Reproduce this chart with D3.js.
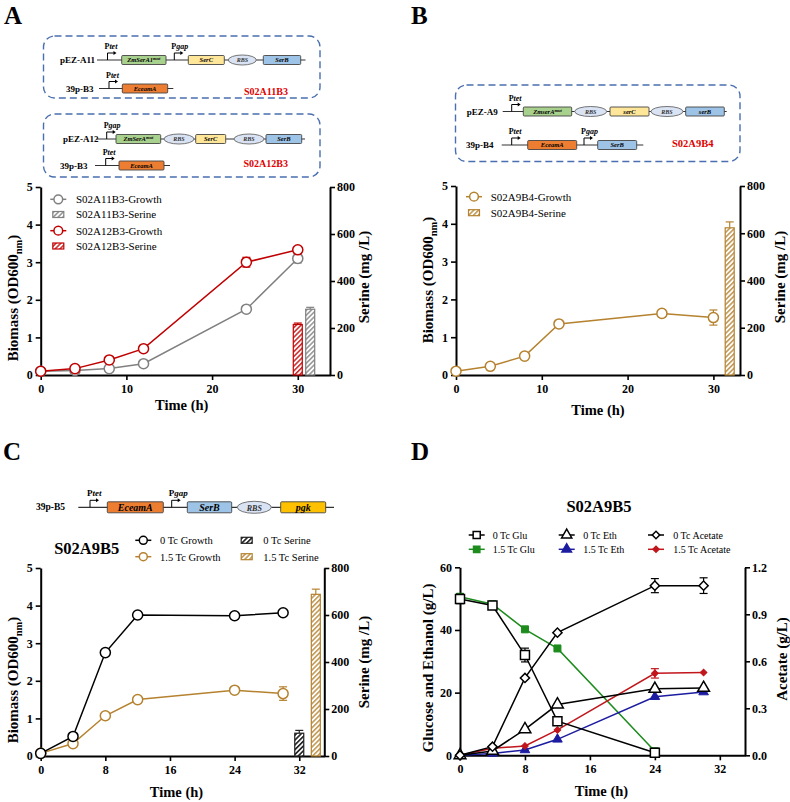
<!DOCTYPE html>
<html><head><meta charset="utf-8">
<script src="https://cdn.jsdelivr.net/npm/d3@7"></script>
<style>body{margin:0;background:#fff}svg{display:block;font-family:"Liberation Serif","Times New Roman",serif}</style>
</head><body><svg id="fig" width="790" height="802"></svg>
<script>
// ---------------- DATA ----------------
const timesA = [0, 4, 8, 12, 24, 30];
const growthA11 = [0.10, 0.12, 0.17, 0.30, 1.75, 3.10];
const growthA11Err = [0, 0, 0, 0, 0.03, 0.12];
const growthA12 = [0.10, 0.17, 0.40, 0.70, 3.00, 3.33];
const growthA12Err = [0, 0, 0, 0, 0.13, 0.03];
const serineATimes = [30, 31.45];
const serineA = [215, 280];
const serineAErr = [6, 8];

const timesB = [0, 4, 8, 12, 24, 30];
const growthB4 = [0.10, 0.23, 0.50, 1.35, 1.63, 1.52];
const growthB4Err = [0, 0, 0, 0, 0.1, 0.2];
const serineBTimes = [31.9];
const serineB = [623];
const serineBErr = [25];

const timesC = [0, 4, 8, 12, 24, 30];
const growthC0 = [0.07, 0.52, 2.75, 3.75, 3.73, 3.81];
const growthC0Err = [0, 0, 0, 0, 0.08, 0];
const growthC15 = [0.07, 0.33, 1.07, 1.50, 1.75, 1.66];
const growthC15Err = [0, 0, 0, 0, 0, 0.18];
const serineCTimes = [32, 34.05];
const serineC = [97, 688];
const serineCErr = [12, 22];

const timesDGlu = [0, 4, 8, 12, 24];
const glu0 = [49.9, 47.8, 32.0, 10.9, 0.8];
const glu0Err = [1.5, 0.8, 2.2, 0, 0];
const glu15 = [50.6, 48.2, 40.2, 34.1, 1.3];
const timesD = [0, 4, 8, 12, 24, 30];
const eth0 = [0, 1.4, 8.3, 16.2, 21.2, 21.5];
const eth15 = [0, 0.6, 1.7, 5.1, 18.7, 20.2];
const ace0 = [0, 0.055, 0.494, 0.783, 1.083, 1.083];
const ace0Err = [0, 0, 0, 0, 0.045, 0.05];
const ace15 = [0, 0.045, 0.06, 0.162, 0.523, 0.528];
const ace15Err = [0, 0, 0, 0, 0.03, 0];

const ticksX10 = [0, 10, 20, 30];
const ticksX8 = [0, 8, 16, 24, 32];
const ticksOD = [0, 1, 2, 3, 4, 5];
const ticksSer = [0, 200, 400, 600, 800];
const ticksGE = [0, 20, 40, 60];
const ticksAce = [0, 0.3, 0.6, 0.9, 1.2];

// ---------------- STYLE ----------------
const GRAY = "#808080", RED = "#c00000", BROWN = "#b5822f", BLACK = "#000",
      GREEN = "#1d8c1d", BLUE = "#1c1ca0", DRED = "#c0161c";

const svg = d3.select("#fig");
const defs = svg.append("defs");
function hatch(id, color, sw) {
  const p = defs.append("pattern").attr("id", id).attr("patternUnits", "userSpaceOnUse")
    .attr("width", 3.4).attr("height", 3.4).attr("patternTransform", "rotate(45)");
  p.append("rect").attr("width", 3.4).attr("height", 3.4).attr("fill", "#fff");
  p.append("line").attr("x1", 0.8).attr("y1", 0).attr("x2", 0.8).attr("y2", 3.4)
    .attr("stroke", color).attr("stroke-width", sw);
}
hatch("hRed", RED, 1.3); hatch("hGray", GRAY, 1.3); hatch("hBrown", BROWN, 1.3); hatch("hBlack", "#222", 1.7);

function sym(type, size) {
  return d3.symbol().type(type).size(size)();
}

// ---------------- CHART ----------------
function chart(o) {
  const g = svg.append("g");
  const x = d3.scaleLinear().domain([0, o.xMax]).range([o.x0, o.x1]);
  const yL = d3.scaleLinear().domain(o.yL).range([o.yb, o.yt]);
  const yR = d3.scaleLinear().domain(o.yR).range([o.yb, o.yt]);
  const styleAxis = sel => {
    sel.select(".domain").attr("stroke", "#000").attr("stroke-width", 2);
    sel.selectAll(".tick line").attr("stroke", "#000").attr("stroke-width", 1.6);
    sel.selectAll(".tick text").attr("font-size", 12).attr("font-weight", "bold")
      .attr("font-family", '"Liberation Serif",serif').attr("fill", "#000");
  };
  g.append("g").attr("transform", `translate(0,${o.yb})`)
    .call(d3.axisBottom(x).tickValues(o.xTicks).tickSize(5).tickSizeOuter(0).tickPadding(4))
    .call(styleAxis);
  g.append("g").attr("transform", `translate(${o.x0},0)`)
    .call(d3.axisLeft(yL).tickValues(o.yLTicks).tickSize(5).tickSizeOuter(0).tickPadding(3).tickFormat(o.yLFmt || d3.format("d")))
    .call(styleAxis);
  g.append("g").attr("transform", `translate(${o.x1},0)`)
    .call(d3.axisRight(yR).tickValues(o.yRTicks).tickSize(5).tickSizeOuter(0).tickPadding(2).tickFormat(o.yRFmt || d3.format("d")))
    .call(styleAxis);

  // bars
  (o.bars || []).forEach(b => {
    b.xs.forEach((t, i) => {
      const cx = x(t), top = yR(b.ys[i]);
      g.append("rect").attr("x", cx - 4.5).attr("y", top).attr("width", 9).attr("height", o.yb - top)
        .attr("fill", `url(#${b.pat})`).attr("stroke", b.color).attr("stroke-width", 1.2);
      if (b.err[i] > 0) {
        const ye = yR(b.ys[i] + b.err[i]);
        g.append("line").attr("x1", cx).attr("x2", cx).attr("y1", top).attr("y2", ye).attr("stroke", b.color).attr("stroke-width", 1.2);
        g.append("line").attr("x1", cx - 4).attr("x2", cx + 4).attr("y1", ye).attr("y2", ye).attr("stroke", b.color).attr("stroke-width", 1.2);
      }
    });
  });
  // series
  o.series.forEach(s => {
    const y = s.axis === "R" ? yR : yL;
    const pts = s.xs.map((t, i) => [x(t), y(s.ys[i])]);
    g.append("path").attr("d", d3.line()(pts)).attr("fill", "none").attr("stroke", s.color).attr("stroke-width", 1.5);
    if (s.err) s.xs.forEach((t, i) => {
      if (!s.err[i]) return;
      const cx = x(t), y1 = y(s.ys[i] - s.err[i]), y2 = y(s.ys[i] + s.err[i]);
      g.append("line").attr("x1", cx).attr("x2", cx).attr("y1", y1).attr("y2", y2).attr("stroke", s.color).attr("stroke-width", 1.2);
      [y1, y2].forEach(yy => g.append("line").attr("x1", cx - 4).attr("x2", cx + 4).attr("y1", yy).attr("y2", yy).attr("stroke", s.color).attr("stroke-width", 1.2));
    });
    pts.forEach(p => {
      g.append("path").attr("d", sym(s.sym, s.size)).attr("transform", `translate(${p[0]},${p[1]}) rotate(${s.rot || 0})`)
        .attr("fill", s.fill).attr("stroke", s.color).attr("stroke-width", s.sw || 1.5);
    });
  });
  // titles
  const lt = g.append("text").attr("transform", `translate(${o.ylx},${o.yly}) rotate(-90)`).attr("text-anchor", "middle")
    .attr("font-weight", "bold").attr("font-size", o.ylfs || 15);
  if (o.ylSub) {
    lt.append("tspan").text(o.ylText);
    lt.append("tspan").text("nm").attr("font-size", (o.ylfs || 15) * 0.7).attr("dy", 4);
    lt.append("tspan").text(")").attr("dy", -4);
  } else lt.text(o.ylText);
  g.append("text").attr("transform", `translate(${o.yrx},${o.yry}) rotate(-90)`).attr("text-anchor", "middle")
    .attr("font-weight", "bold").attr("font-size", o.yrfs || 15).text(o.yrText);
  g.append("text").attr("x", (o.x0 + o.x1) / 2 - o.xlOff).attr("y", o.xly).attr("text-anchor", "middle")
    .attr("font-weight", "bold").attr("font-size", 14.5).text("Time (h)");
  return g;
}

function legend(items, fs) {
  items.forEach(it => {
    const g = svg.append("g");
    if (it.kind === "bar") {
      g.append("rect").attr("x", it.mx - 5.5).attr("y", it.y - 3).attr("width", 11).attr("height", 6)
        .attr("fill", `url(#${it.pat})`).attr("stroke", it.color).attr("stroke-width", 1.2);
    } else {
      g.append("line").attr("x1", it.mx - 8).attr("x2", it.mx + 8).attr("y1", it.y).attr("y2", it.y).attr("stroke", it.color).attr("stroke-width", 1.5);
      g.append("path").attr("d", sym(it.sym, it.size)).attr("transform", `translate(${it.mx},${it.y}) rotate(${it.rot || 0})`)
        .attr("fill", it.fill).attr("stroke", it.color).attr("stroke-width", 1.5);
    }
    g.append("text").attr("x", it.tx).attr("y", it.y + 3.8).attr("font-size", fs).text(it.label);
  });
}

// ---------------- PANEL A ----------------
chart({
  x0: 40.7, x1: 330, yt: 187, yb: 375, xMax: 33.76, xTicks: ticksX10,
  yL: [0, 5], yLTicks: ticksOD, yR: [0, 800], yRTicks: ticksSer,
  ylx: 18, yly: 298, ylText: "Biomass (OD600", ylSub: true, yrx: 369, yry: 277, yrText: "Serine (mg /L)",
  xly: 410, xlOff: 3.6,
  bars: [
    { xs: [serineATimes[0]], ys: [serineA[0]], err: [serineAErr[0]], color: RED, pat: "hRed" },
    { xs: [serineATimes[1]], ys: [serineA[1]], err: [serineAErr[1]], color: GRAY, pat: "hGray" }
  ],
  series: [
    { xs: timesA, ys: growthA11, err: growthA11Err, color: GRAY, sym: d3.symbolCircle, size: 80, fill: "#fff" },
    { xs: timesA, ys: growthA12, err: growthA12Err, color: RED, sym: d3.symbolCircle, size: 80, fill: "#fff" }
  ]
});
legend([
  { label: "S02A11B3-Growth", color: GRAY, sym: d3.symbolCircle, size: 60, fill: "#fff", mx: 58.3, tx: 76, y: 199.3 },
  { label: "S02A11B3-Serine", kind: "bar", color: GRAY, pat: "hGray", mx: 58.3, tx: 76, y: 214.5 },
  { label: "S02A12B3-Growth", color: RED, sym: d3.symbolCircle, size: 60, fill: "#fff", mx: 58.3, tx: 76, y: 230.7 },
  { label: "S02A12B3-Serine", kind: "bar", color: RED, pat: "hRed", mx: 58.3, tx: 76, y: 246 }
], 11);

// ---------------- PANEL B ----------------
chart({
  x0: 456, x1: 740, yt: 186, yb: 375, xMax: 33.1, xTicks: ticksX10,
  yL: [0, 5], yLTicks: ticksOD, yR: [0, 800], yRTicks: ticksSer,
  ylx: 433, yly: 280, ylText: "Biomass (OD600", ylSub: true, yrx: 785, yry: 277, yrText: "Serine (mg /L)",
  xly: 415, xlOff: 0,
  bars: [{ xs: serineBTimes, ys: serineB, err: serineBErr, color: BROWN, pat: "hBrown" }],
  series: [{ xs: timesB, ys: growthB4, err: growthB4Err, color: BROWN, sym: d3.symbolCircle, size: 80, fill: "#fff" }]
});
legend([
  { label: "S02A9B4-Growth", color: BROWN, sym: d3.symbolCircle, size: 60, fill: "#fff", mx: 474, tx: 490.7, y: 196.7 },
  { label: "S02A9B4-Serine", kind: "bar", color: BROWN, pat: "hBrown", mx: 474, tx: 490.7, y: 212.7 }
], 11);

// ---------------- PANEL C ----------------
chart({
  x0: 40.7, x1: 324.3, yt: 568, yb: 756, xMax: 35.1, xTicks: ticksX8,
  yL: [0, 5], yLTicks: ticksOD, yR: [0, 800], yRTicks: ticksSer,
  ylx: 18, yly: 680, ylText: "Biomass (OD600", ylSub: true, yrx: 369, yry: 662, yrText: "Serine (mg /L)",
  xly: 797, xlOff: 6,
  bars: [
    { xs: [serineCTimes[0]], ys: [serineC[0]], err: [serineCErr[0]], color: "#222", pat: "hBlack" },
    { xs: [serineCTimes[1]], ys: [serineC[1]], err: [serineCErr[1]], color: BROWN, pat: "hBrown" }
  ],
  series: [
    { xs: timesC, ys: growthC15, err: growthC15Err, color: BROWN, sym: d3.symbolCircle, size: 80, fill: "#fff" },
    { xs: timesC, ys: growthC0, err: growthC0Err, color: BLACK, sym: d3.symbolCircle, size: 80, fill: "#fff" }
  ]
});
svg.append("text").attr("x", 86.7).attr("y", 554).attr("text-anchor", "middle").attr("font-weight", "bold").attr("font-size", 16.5).text("S02A9B5");
legend([
  { label: "0 Tc Growth", color: BLACK, sym: d3.symbolCircle, size: 50, fill: "#fff", mx: 143.3, tx: 160, y: 540.3 },
  { label: "1.5 Tc Growth", color: BROWN, sym: d3.symbolCircle, size: 50, fill: "#fff", mx: 143.3, tx: 160, y: 556.7 },
  { label: "0 Tc Serine", kind: "bar", color: "#222", pat: "hBlack", mx: 246.7, tx: 263.3, y: 540.3 },
  { label: "1.5 Tc Serine", kind: "bar", color: BROWN, pat: "hBrown", mx: 246.7, tx: 263.3, y: 556.7 }
], 10.5);

// ---------------- PANEL D ----------------
chart({
  x0: 460, x1: 745, yt: 567.3, yb: 755.3, xMax: 35.1, xTicks: ticksX8,
  yL: [0, 60], yLTicks: ticksGE, yR: [0, 1.2], yRTicks: ticksAce, yRFmt: d3.format(".1f"),
  ylx: 433, yly: 668, ylText: "Glucose and Ethanol (g/L)", yrx: 787, yry: 659, yrText: "Acetate (g/L)",
  xly: 796, xlOff: 1,
  series: [
    { xs: timesDGlu, ys: glu15, color: GREEN, sym: d3.symbolSquare, size: 49, fill: GREEN, sw: 1 },
    { xs: timesD, ys: eth15, color: BLUE, sym: d3.symbolTriangle, size: 40, fill: BLUE, sw: 1 },
    { xs: timesD, ys: ace15, err: ace15Err, axis: "R", color: DRED, sym: d3.symbolSquare, size: 22, rot: 45, fill: DRED, sw: 1 },
    { xs: timesDGlu, ys: glu0, err: glu0Err, color: BLACK, sym: d3.symbolSquare, size: 81, fill: "#fff" },
    { xs: timesD, ys: eth0, color: BLACK, sym: d3.symbolTriangle, size: 60, fill: "#fff" },
    { xs: timesD, ys: ace0, err: ace0Err, axis: "R", color: BLACK, sym: d3.symbolSquare, size: 42, rot: 45, fill: "#fff" }
  ]
});
svg.append("text").attr("x", 599).attr("y", 512).attr("text-anchor", "middle").attr("font-weight", "bold").attr("font-size", 16.5).text("S02A9B5");
legend([
  { label: "0 Tc Glu", color: BLACK, sym: d3.symbolSquare, size: 50, fill: "#fff", mx: 476.7, tx: 492.7, y: 535 },
  { label: "1.5 Tc Glu", color: GREEN, sym: d3.symbolSquare, size: 40, fill: GREEN, mx: 476.7, tx: 492.7, y: 549.3 },
  { label: "0 Tc Eth", color: BLACK, sym: d3.symbolTriangle, size: 45, fill: "#fff", mx: 566.7, tx: 583.3, y: 535 },
  { label: "1.5 Tc Eth", color: BLUE, sym: d3.symbolTriangle, size: 40, fill: BLUE, mx: 566.7, tx: 583.3, y: 549.3 },
  { label: "0 Tc Acetate", color: BLACK, sym: d3.symbolSquare, size: 28, rot: 45, fill: "#fff", mx: 656, tx: 673.3, y: 535 },
  { label: "1.5 Tc Acetate", color: DRED, sym: d3.symbolSquare, size: 18, rot: 45, fill: DRED, mx: 656, tx: 673.3, y: 549.3 }
], 10);

// ---------------- PANEL LETTERS ----------------
[["A", 4, 24], ["B", 411, 24], ["C", 3, 460], ["D", 411, 460]].forEach(d =>
  svg.append("text").attr("x", d[1]).attr("y", d[2]).attr("font-size", 25).attr("font-weight", "bold").text(d[0]));

// ---------------- GENE CONSTRUCT DIAGRAMS ----------------
const FILL = { green: "#a9d18e", yellow: "#ffe699", blue: "#9dc3e6", orange: "#ed7d31", gold: "#ffc000" };
function dashedBox(x, y, w, h) {
  svg.append("rect").attr("x", x).attr("y", y).attr("width", w).attr("height", h).attr("rx", 11)
    .attr("fill", "none").attr("stroke", "#4a6fb0").attr("stroke-width", 1.4).attr("stroke-dasharray", "7,4");
}
function construct(r) {
  const g = svg.append("g");
  const big = r.big;
  const bh = big ? 11 : 9, gfs = big ? 10 : 6.5, pfs = big ? 9 : 8;
  g.append("text").attr("x", r.lx).attr("y", r.y + 3).attr("font-weight", "bold").attr("font-size", big ? 9.5 : 9).text(r.label);
  g.append("line").attr("x1", r.x1).attr("x2", r.x2).attr("y1", r.y).attr("y2", r.y).attr("stroke", "#333").attr("stroke-width", 1.2);
  r.els.forEach(e => {
    if (e.t === "prom") {
      g.append("path").attr("d", `M${e.x},${r.y} V${r.y - 7} H${e.x + 7}`).attr("fill", "none").attr("stroke", "#000").attr("stroke-width", 1);
      g.append("path").attr("d", `M${e.x + 9},${r.y - 7} l-3,-2 v4 z`).attr("fill", "#000");
      const t = g.append("text").attr("x", e.x - 3).attr("y", r.y - 11).attr("font-weight", "bold").attr("font-size", pfs);
      t.append("tspan").text("P");
      t.append("tspan").attr("font-style", "italic").text(e.name);
    } else if (e.t === "gene") {
      g.append("rect").attr("x", e.x1).attr("y", r.y - bh / 2).attr("width", e.x2 - e.x1).attr("height", bh)
        .attr("fill", FILL[e.fill]).attr("stroke", "#444").attr("stroke-width", 0.9).attr("rx", 1);
      const t = g.append("text").attr("x", (e.x1 + e.x2) / 2).attr("y", r.y + gfs * 0.35).attr("text-anchor", "middle")
        .attr("font-style", "italic").attr("font-weight", "bold").attr("font-size", gfs);
      t.append("tspan").text(e.name);
      if (e.sup) t.append("tspan").attr("font-size", gfs * 0.7).attr("dy", -2).text(e.sup);
    } else if (e.t === "rbs") {
      g.append("ellipse").attr("cx", e.cx).attr("cy", r.y).attr("rx", e.rx).attr("ry", big ? 6 : 5)
        .attr("fill", "#dae3f3").attr("stroke", "#666").attr("stroke-width", 0.9);
      g.append("text").attr("x", e.cx).attr("y", r.y + gfs * 0.35).attr("text-anchor", "middle").attr("font-style", "italic")
        .attr("font-weight", "bold").attr("font-size", big ? 8 : 6).attr("fill", "#333").text("RBS");
    }
  });
}
function strain(x, y, text, fs) {
  svg.append("text").attr("x", x).attr("y", y).attr("text-anchor", "middle").attr("font-weight", "bold")
    .attr("font-size", fs).attr("fill", "#e00000").text(text);
}

// A top box
dashedBox(43.5, 36, 276.5, 62);
construct({ label: "pEZ-A11", lx: 60, y: 60, x1: 97, x2: 305.5, els: [
  { t: "prom", x: 107.5, name: "tet" },
  { t: "gene", x1: 121.7, x2: 166, fill: "green", name: "ZmSerA1", sup: "mut" },
  { t: "prom", x: 174.3, name: "gap" },
  { t: "gene", x1: 188.3, x2: 224.3, fill: "yellow", name: "SerC" },
  { t: "rbs", cx: 242.3, rx: 14 },
  { t: "gene", x1: 263.3, x2: 300.7, fill: "blue", name: "SerB" }
]});
construct({ label: "39p-B3", lx: 66, y: 88.5, x1: 99, x2: 173.3, els: [
  { t: "prom", x: 109, name: "tet" },
  { t: "gene", x1: 122.3, x2: 167.7, fill: "orange", name: "EceamA" }
]});
strain(266, 95, "S02A11B3", 10);

// A bottom box
dashedBox(43.5, 114, 276.5, 63);
construct({ label: "pEZ-A12", lx: 63, y: 139, x1: 97, x2: 305, els: [
  { t: "prom", x: 106.7, name: "gap" },
  { t: "gene", x1: 116, x2: 160.7, fill: "green", name: "ZmSerA", sup: "mut" },
  { t: "rbs", cx: 179, rx: 15 },
  { t: "gene", x1: 195.7, x2: 225.7, fill: "yellow", name: "SerC" },
  { t: "rbs", cx: 249, rx: 15 },
  { t: "gene", x1: 266, x2: 301.7, fill: "blue", name: "SerB" }
]});
construct({ label: "39p-B3", lx: 60, y: 165.5, x1: 95, x2: 170, els: [
  { t: "prom", x: 105.7, name: "tet" },
  { t: "gene", x1: 119, x2: 164, fill: "orange", name: "EceamA" }
]});
strain(265.7, 167, "S02A12B3", 10);

// B box
dashedBox(455.5, 85, 284.5, 76.5);
construct({ label: "pEZ-A9", lx: 466.7, y: 111.5, x1: 502.7, x2: 726.7, els: [
  { t: "prom", x: 511.7, name: "tet" },
  { t: "gene", x1: 523.3, x2: 571.7, fill: "green", name: "ZmserA", sup: "mut" },
  { t: "rbs", cx: 590.7, rx: 16 },
  { t: "gene", x1: 610, x2: 649, fill: "yellow", name: "serC" },
  { t: "rbs", cx: 667, rx: 16 },
  { t: "gene", x1: 685.7, x2: 724.3, fill: "blue", name: "serB" }
]});
construct({ label: "39p-B4", lx: 466, y: 145, x1: 501.7, x2: 643.3, els: [
  { t: "prom", x: 511.7, name: "tet" },
  { t: "gene", x1: 527.7, x2: 576.7, fill: "orange", name: "EceamA" },
  { t: "prom", x: 584, name: "gap" },
  { t: "gene", x1: 597.7, x2: 636.7, fill: "blue", name: "SerB" }
]});
strain(692.7, 147, "S02A9B4", 10.5);

// C construct
construct({ label: "39p-B5", big: true, lx: 36, y: 507.3, x1: 78.3, x2: 334, els: [
  { t: "prom", x: 90, name: "tet" },
  { t: "gene", x1: 107.3, x2: 163.3, fill: "orange", name: "EceamA" },
  { t: "prom", x: 171.7, name: "gap" },
  { t: "gene", x1: 187.3, x2: 231.7, fill: "blue", name: "SerB" },
  { t: "rbs", cx: 254.3, rx: 17 },
  { t: "gene", x1: 280.7, x2: 325.7, fill: "gold", name: "pgk" }
]});
</script></body></html>
